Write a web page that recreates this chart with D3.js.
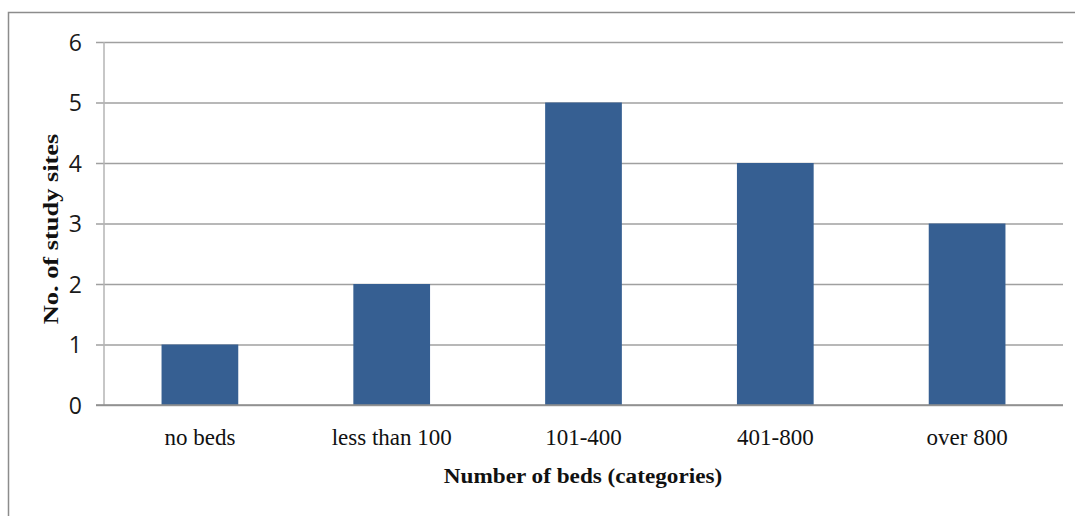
<!DOCTYPE html>
<html>
<head>
<meta charset="utf-8">
<script src="https://cdn.jsdelivr.net/npm/d3@7"></script>
<style>
  html, body { margin: 0; padding: 0; background: #fff; }
  svg { display: block; }
</style>
</head>
<body>
<svg id="chart" width="1075" height="516"></svg>
<script>
// Study sites grouped by hospital bed count
const categories = ["no beds", "less than 100", "101-400", "401-800", "over 800"];
const siteCounts = [1, 2, 5, 4, 3];
const yTicks = [0, 1, 2, 3, 4, 5, 6];

const svg = d3.select("#chart");
const W = 1075, H = 516;
const plot = { left: 104, right: 1063, top: 42, bottom: 405 };

// outer chart frame (runs off the right and bottom edges)
svg.append("rect")
  .attr("x", 8.5).attr("y", 12.5)
  .attr("width", W + 10).attr("height", H + 10)
  .attr("fill", "none").attr("stroke", "#8c8c8c").attr("stroke-width", 1.5);

const x = d3.scaleBand()
  .domain(categories)
  .range([plot.left, plot.right])
  .paddingInner(0.6)
  .paddingOuter(0.3);

const y = d3.scaleLinear()
  .domain([0, 6])
  .range([plot.bottom, plot.top]);

// horizontal gridlines with tick stubs
const yAxis = d3.axisLeft(y)
  .tickValues(yTicks)
  .tickSize(-(plot.right - plot.left))
  .tickFormat(d3.format("d"));

const gy = svg.append("g")
  .attr("transform", `translate(${plot.left},0)`)
  .call(yAxis);
gy.select(".domain").remove();
gy.selectAll(".tick line")
  .attr("x1", -8)
  .attr("stroke", "#a0a0a0")
  .attr("stroke-width", 1.5);
gy.selectAll(".tick text")
  .attr("x", -22)
  .attr("dy", 8)
  .attr("fill", "#1a1a1a")
  .style("font-family", "'Open Sans', 'Liberation Sans', sans-serif")
  .style("font-size", "23px");

// vertical axis line
svg.append("line")
  .attr("x1", plot.left).attr("x2", plot.left)
  .attr("y1", plot.top).attr("y2", plot.bottom)
  .attr("stroke", "#b4b4b4").attr("stroke-width", 1.5);

// bars
svg.append("g").selectAll("rect")
  .data(categories.map((c, i) => ({ c, v: siteCounts[i] })))
  .join("rect")
  .attr("x", d => x(d.c))
  .attr("width", x.bandwidth())
  .attr("y", d => y(d.v))
  .attr("height", d => y(0) - y(d.v))
  .attr("fill", "#365f92");

// baseline
svg.append("line")
  .attr("x1", plot.left - 8).attr("x2", plot.right)
  .attr("y1", y(0)).attr("y2", y(0))
  .attr("stroke", "#8c8c8c").attr("stroke-width", 1.5);

// category labels
const xAxis = d3.axisBottom(x).tickSize(0).tickPadding(0);
const gx = svg.append("g")
  .attr("transform", `translate(0,${plot.bottom})`)
  .call(xAxis);
gx.select(".domain").remove();
gx.selectAll(".tick text")
  .attr("y", 40)
  .attr("dy", 0)
  .attr("fill", "#111")
  .style("font-family", "'Liberation Serif', 'Times New Roman', serif")
  .style("font-size", "23px");

// axis titles (glyphs set slightly wide)
svg.append("text")
  .attr("transform", `translate(583,483) scale(1.16,1)`)
  .attr("text-anchor", "middle")
  .attr("fill", "#111")
  .style("font-family", "'Liberation Serif', 'Times New Roman', serif")
  .style("font-weight", "bold")
  .style("font-size", "20px")
  .text("Number of beds (categories)");

svg.append("text")
  .attr("transform", `translate(58,229) rotate(-90) scale(1.2,1)`)
  .attr("text-anchor", "middle")
  .attr("fill", "#111")
  .style("font-family", "'Liberation Serif', 'Times New Roman', serif")
  .style("font-weight", "bold")
  .style("font-size", "22px")
  .text("No. of study sites");
</script>
</body>
</html>
